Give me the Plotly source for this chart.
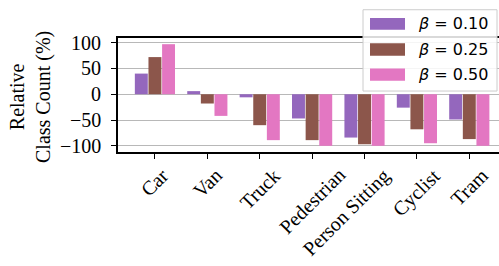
import plotly.graph_objects as go

categories = ["Car", "Van", "Truck", "Pedestrian", "Person Sitting", "Cyclist", "Tram"]
series_names = ["<i>β</i> = 0.10", "<i>β</i> = 0.25", "<i>β</i> = 0.50"]
beta_010 = [40, 6, -6, -47, -84, -26, -49]
beta_025 = [72, -18, -60, -89, -97, -68, -87]
beta_050 = [97, -42, -89, -100, -100, -95, -100]
colors = ["#9467bd", "#8c564b", "#e377c2"]
y_ticks = [-100, -50, 0, 50, 100]
y_ticktext = ["−100", "−50", "0", "50", "100"]

W, H = 499, 266
L, R, T, B = 118, 0, 37.5, 113.5
pw, ph = W - L - R, H - T - B

fig = go.Figure()
xs = list(range(len(categories)))
for name, vals, col in zip(series_names, [beta_010, beta_025, beta_050], colors):
    fig.add_trace(go.Bar(x=xs, y=vals, name=name,
                         marker=dict(color=col, line=dict(width=0)), showlegend=False))

serif = "Liberation Serif, Times New Roman, serif"

def px(x):
    return (x - L) / pw

def py(y):
    return (H - B - y) / ph

shapes = []
annotations = []
# legend box
shapes.append(dict(type="rect", xref="paper", yref="paper", x0=px(363), x1=px(497), y0=py(91), y1=py(9),
                   line=dict(color="#cccccc", width=1), fillcolor="rgba(255,255,255,0.85)", layer="above"))
rows = [(17.3, 29.3), (42.7, 55.3), (68.3, 80.7)]
for (y0, y1), col, name in zip(rows, colors, series_names):
    shapes.append(dict(type="rect", xref="paper", yref="paper", x0=px(370), x1=px(405), y0=py(y1), y1=py(y0),
                       line=dict(width=0), fillcolor=col, layer="above"))
    annotations.append(dict(xref="paper", yref="paper", x=px(416), y=py((y0 + y1) / 2), text=name,
                            showarrow=False, xanchor="left", yanchor="middle",
                            font=dict(family="DejaVu Sans", size=16, color="black")))

# y-axis title
annotations.append(dict(xref="paper", yref="paper", x=px(31), y=py(97), text="Relative<br>Class Count (%)",
                        textangle=-90, showarrow=False, xanchor="center", yanchor="middle",
                        font=dict(family=serif, size=20, color="black")))

# y tick labels
for yv, yt in zip(y_ticks, y_ticktext):
    annotations.append(dict(xref="paper", yref="y", x=px(103), y=yv, text=yt, showarrow=False,
                            xanchor="right", yanchor="middle",
                            font=dict(family=serif, size=20, color="black")))

# x tick labels, rotated 45 degrees and centred under their ticks
label_shift = {"Person Sitting": -18}
for xi, cat in zip(xs, categories):
    annotations.append(dict(xref="x", yref="paper", x=xi, y=py(162), text=cat, textangle=-45,
                            showarrow=False, xanchor="center", yanchor="top",
                            xshift=label_shift.get(cat, 0),
                            font=dict(family=serif, size=20, color="black")))

fig.update_layout(
    width=W, height=H,
    margin=dict(l=L, r=R, t=T, b=B, autoexpand=False),
    plot_bgcolor="white", paper_bgcolor="white",
    barmode="group", bargap=0.22, bargroupgap=0.05,
    shapes=shapes, annotations=annotations,
    xaxis=dict(range=[-0.705, 6.567], tickmode="array", tickvals=xs, showticklabels=False,
               ticks="outside", ticklen=5, tickwidth=1.3,
               tickcolor="black", showline=True, linecolor="black", linewidth=1.5, mirror=True,
               showgrid=False, zeroline=False, automargin=False),
    yaxis=dict(range=[-112, 109], tickmode="array", tickvals=y_ticks, showticklabels=False,
               ticks="outside", ticklen=5, tickwidth=1.3, tickcolor="black",
               showline=True, linecolor="black", linewidth=1.5, showgrid=True, gridcolor="#b8b8b8",
               gridwidth=1.3, zeroline=False, automargin=False),
)

fig.write_html("out.html", config={"displayModeBar": False},
               post_script="document.body.style.margin='0';document.body.style.overflow='hidden';")
